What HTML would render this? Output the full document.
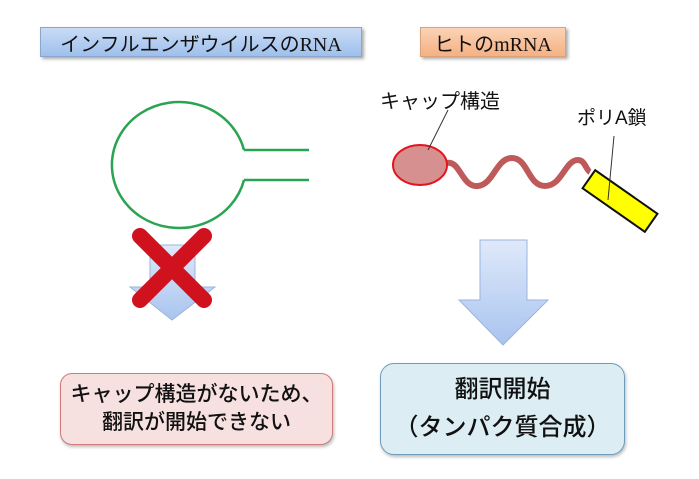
<!DOCTYPE html>
<html><head><meta charset="utf-8"><style>
body{margin:0;width:699px;height:479px;background:#fff;overflow:hidden;position:relative;font-family:"Liberation Sans","Noto Sans CJK JP",sans-serif}
.b{position:absolute;box-sizing:border-box;display:flex;align-items:center;justify-content:center;text-align:center;color:#111}
</style></head><body>
<div class="b" style="left:40px;top:27px;width:322px;height:30px;background:linear-gradient(#c9dcf5,#9fc0ec);border:1px solid #8aa6cc;box-shadow:2px 2px 3px #aaa;font-size:20px;font-family:'Liberation Serif','Noto Sans CJK JP',serif">インフルエンザウイルスのRNA</div>
<div class="b" style="left:420px;top:27px;width:146px;height:30px;background:linear-gradient(#fbd3b5,#f5b183);border:1px solid #d9a27a;box-shadow:2px 2px 3px #aaa;font-size:20px;font-family:'Liberation Serif','Noto Sans CJK JP',serif">ヒトのmRNA</div>
<svg width="699" height="479" style="position:absolute;left:0;top:0">
<defs><linearGradient id="g" x1="0" y1="0" x2="0" y2="1"><stop offset="0" stop-color="#dfe9fa"/><stop offset="1" stop-color="#a9c4ef"/></linearGradient></defs>
<path d="M244,150 A67,63 0 1 0 244,180" fill="none" stroke="#2aa353" stroke-width="2.5"/>
<path d="M244,150 H309 M244,180 H309" stroke="#2aa353" stroke-width="2.5"/>
<path d="M150,245 H195 V287 H215 L172,320 L130,287 H150 Z" fill="url(#g)" stroke="#9bb5dc"/>
<path d="M140,236 L204,300 M204,236 L140,300" stroke="#d0121f" stroke-width="16" stroke-linecap="round"/>
<path d="M480,240 H527 V300 H548 L503,345 L459,300 H480 Z" fill="url(#g)" stroke="#9bb5dc"/>
<path d="M447,163 C460,160 462,188 478,186 C494,184 496,158 512,158 C528,158 528,186 545,186 C562,186 565,160 578,160 C585,160 586,170 590,172" fill="none" stroke="#bf5a5a" stroke-width="6"/>
<ellipse cx="420" cy="165" rx="27" ry="20" fill="#d79090" stroke="#e3141e" stroke-width="2"/>
<g transform="translate(620,201) rotate(35)"><rect x="-38" y="-11" width="76" height="22" fill="#ffff00" stroke="#111" stroke-width="2"/></g>
<path d="M448,110 L428,150 M614,136 L608,200" stroke="#333" stroke-width="1"/>
<text x="380" y="108" font-size="20" font-family="Liberation Sans,Noto Sans CJK JP,sans-serif" fill="#111">キャップ構造</text>
<text x="577" y="124" font-size="19" font-family="Liberation Sans,Noto Sans CJK JP,sans-serif" fill="#111">ポリA鎖</text>
</svg>
<div class="b" style="left:60px;top:373px;width:273px;height:72px;border-radius:12px;background:#f6e0e0;border:1px solid #d07a7a;box-shadow:1px 2px 3px #bbb;font-size:21px;line-height:28px;font-weight:500">キャップ構造がないため、<br>翻訳が開始できない</div>
<div class="b" style="left:380px;top:363px;width:245px;height:92px;border-radius:14px;background:#dcedf3;border:1px solid #6e9cbf;box-shadow:1px 2px 3px #bbb;font-size:24px;line-height:38px;font-weight:500">翻訳開始<br>（タンパク質合成）</div>
</body></html>
